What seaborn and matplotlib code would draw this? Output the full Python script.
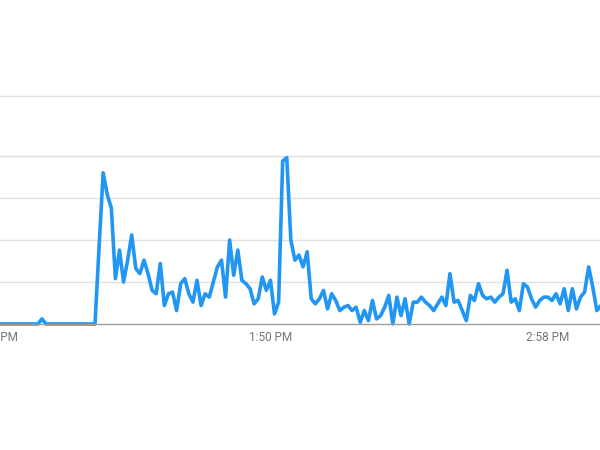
import numpy as np
import pandas as pd
import matplotlib
matplotlib.use("Agg")
import matplotlib.pyplot as plt
import seaborn as sns

# minutes after 12:42 PM, one point per minute
start_minute = 1

# flat start (12:43 .. 1:07), then the first burst
quiet = [0, 0, 0, 0, 0, 0, 0, 0, 0, 0, 0, 3, 0, 0, 0, 0, 0, 0, 0, 0, 0, 0, 0, 0, 0, 46]
burst = [90, 77, 69, 27, 44, 25, 38, 53, 33, 30,
         38, 30, 20, 18, 36, 11, 18, 19, 8, 24,
         27, 18, 13, 26, 11, 18, 16, 25, 34, 38,
         16, 50, 29, 44, 26, 24, 21, 12, 15, 28,
         20, 26, 6, 13, 97, 99, 50, 38, 41]
tail = [34, 43, 15, 12, 15, 20, 9, 18, 14, 8,
        10, 11, 8, 10, 1, 8, 2, 14, 3, 5,
        10, 17, 0, 16, 5, 15, 0, 13, 13, 16,
        13, 11, 8, 12, 16, 11, 30, 13, 14, 8,
        2, 17, 14, 24, 17, 15, 16, 13, 16, 18,
        32, 13, 15, 8, 24, 22, 15, 10, 14, 16,
        16, 14, 18, 12, 21, 8, 21, 9, 16, 19,
        34, 22, 8, 11]

interest = quiet + burst + tail
minutes = list(range(start_minute, start_minute + len(interest)))

tick_minutes = [0, 68, 136]
tick_labels = ["12:42 PM", "1:50 PM", "2:58 PM"]
grid_values = [25, 50, 75, 100]

df = pd.DataFrame({"minute": minutes, "interest": interest})

sns.set_theme(style="white")
plt.rcParams["font.family"] = ["Roboto", "DejaVu Sans"]

fig = plt.figure(figsize=(6, 4.5), dpi=100)
# chart is cropped: the plot area runs a little past both figure edges
ax = fig.add_axes([-7 / 600, 126 / 450, 612 / 600, 228 / 450])

sns.lineplot(data=df, x="minute", y="interest", ax=ax,
             color="#2196f3", linewidth=2.6, clip_on=False)

ax.set_xlim(0, 150)
ax.set_ylim(0, 135.7)
ax.set_yticks(grid_values)
ax.set_yticklabels([])
ax.tick_params(axis="y", length=0)
ax.yaxis.grid(True, color="#e0e0e0", linewidth=1)
ax.set_axisbelow(True)

ax.set_xticks(tick_minutes)
ax.set_xticklabels(tick_labels, color="#757575", fontsize=8.5)
ax.tick_params(axis="x", length=0, pad=5)
ax.set_xlabel("")
ax.set_ylabel("")

for side in ["left", "right"]:
    ax.spines[side].set_visible(False)
ax.spines["top"].set_color("#e0e0e0")
ax.spines["top"].set_linewidth(1)
ax.spines["bottom"].set_color("#9e9e9e")
ax.spines["bottom"].set_linewidth(1)

fig.savefig("out.png", dpi=100)
